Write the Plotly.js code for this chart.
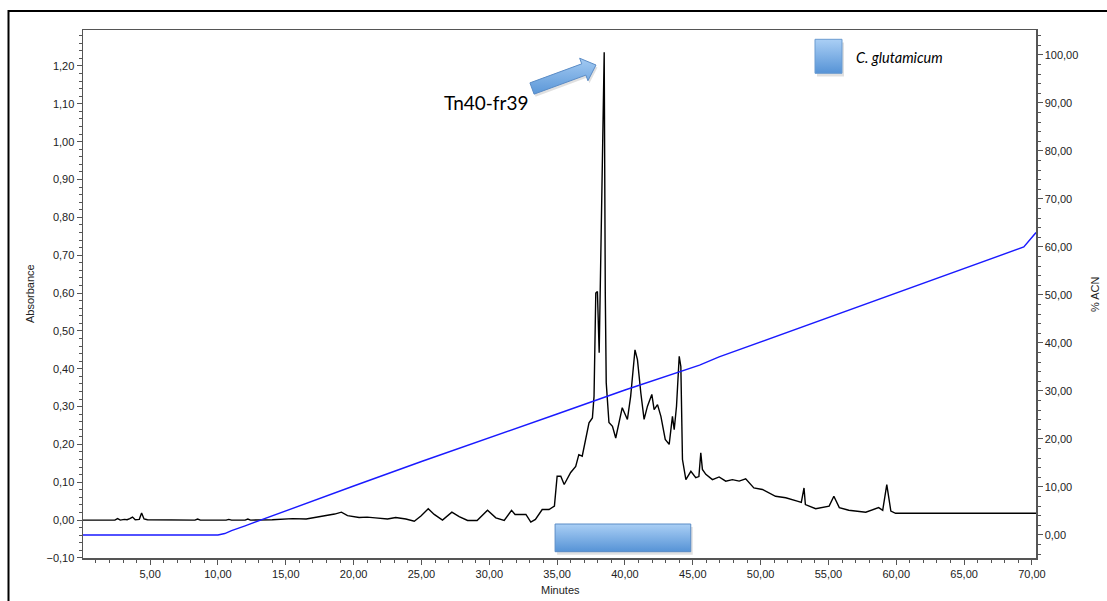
<!DOCTYPE html>
<html>
<head>
<meta charset="utf-8">
<script src="https://cdn.plot.ly/plotly-3.0.1.min.js"></script>
<style>
html,body{margin:0;padding:0;background:#fff;}
#chart{width:1107px;height:601px;}
</style>
</head>
<body>
<div id="chart"></div>
<script>
// ---- Data ----
const minutes = [0, 2.4, 2.6, 2.8, 3.1, 3.3, 3.5, 3.7, 3.9, 4.2, 4.37, 4.55, 4.8, 8.3, 8.5, 8.7, 10.6, 10.8, 11.0, 12.0, 12.2, 12.4, 14.0, 15.5, 16.5, 17.96, 18.6, 19.1, 19.55, 20.4, 21.0, 21.6, 22.5, 23.1, 23.85, 24.47, 24.96, 25.5, 25.94, 26.55, 27.24, 27.78, 28.4, 29.1, 29.87, 30.48, 31.1, 31.64, 31.9, 32.7, 33.06, 33.4, 33.9, 34.4, 34.8, 35.0, 35.27, 35.52, 36.0, 36.37, 36.6, 36.85, 37.1, 37.35, 37.6, 37.72, 37.85, 37.97, 38.1, 38.3, 38.47, 38.55, 38.62, 38.82, 39.08, 39.32, 39.57, 39.8, 40.18, 40.42, 40.74, 40.92, 41.17, 41.41, 41.66, 41.98, 42.15, 42.4, 42.65, 42.97, 43.26, 43.5, 43.63, 43.8, 44.0, 44.12, 44.24, 44.49, 44.86, 45.22, 45.45, 45.59, 45.71, 45.96, 46.45, 46.94, 47.43, 47.92, 48.42, 48.9, 49.5, 50.13, 51.1, 51.85, 52.7, 53.0, 53.2, 53.3, 54.06, 55.05, 55.4, 55.8, 56.5, 57.75, 58.7, 59.0, 59.3, 59.6, 59.95, 62.0, 66.8, 67.0, 67.2, 70.3];
const absorbance = [0, 0, 0.004, 0.0, 0.002, 0.001, 0.004, 0.008, 0.001, 0.002, 0.019, 0.003, 0.001, 0, 0.003, 0, 0, 0.002, 0, 0, 0.003, 0, 0.001, 0.004, 0.003, 0.011, 0.016, 0.021, 0.012, 0.007, 0.008, 0.006, 0.003, 0.007, 0.003, -0.003, 0.011, 0.030, 0.015, 0.0, 0.021, 0.009, -0.001, -0.001, 0.026, 0.006, -0.001, 0.026, 0.015, 0.015, -0.005, 0.002, 0.028, 0.028, 0.037, 0.116, 0.116, 0.094, 0.126, 0.142, 0.173, 0.169, 0.213, 0.257, 0.270, 0.327, 0.600, 0.604, 0.442, 0.85, 1.236, 0.60, 0.363, 0.258, 0.248, 0.217, 0.257, 0.297, 0.266, 0.327, 0.450, 0.424, 0.336, 0.266, 0.301, 0.332, 0.292, 0.305, 0.274, 0.213, 0.200, 0.274, 0.239, 0.301, 0.433, 0.406, 0.160, 0.107, 0.129, 0.112, 0.115, 0.178, 0.134, 0.121, 0.107, 0.114, 0.103, 0.107, 0.103, 0.109, 0.085, 0.081, 0.063, 0.059, 0.050, 0.047, 0.085, 0.041, 0.030, 0.037, 0.063, 0.033, 0.026, 0.021, 0.033, 0.026, 0.094, 0.024, 0.018, 0.018, 0.018, 0.020, 0.018, 0.018];

const gradMinutes = [0, 10, 10.5, 11, 12, 15, 17, 20, 25, 30, 35, 40, 45.5, 46.94, 50, 55, 60, 65, 69.4, 70.3];
const acnPercent  = [0, 0, 0.3, 0.9, 1.9, 5.0, 7.2, 10.2, 15.3, 20.2, 25.2, 30.2, 35.4, 37.1, 40.2, 45.3, 50.4, 55.5, 60.0, 63.0];

// Collected fraction window (minutes) and labels
const fractionWindow = [34.85, 44.85];
const legendLabel = "C. glutamicum";
const peakLabel = "Tn40-fr39";

// ---- Layout geometry ----
const W = 1107, H = 601;
const M = {l: 83, r: 71, t: 30, b: 43};
const xRange = [0.05, 70.3];
const yRange = [-0.1001, 1.295];
const y2Range = [-4.8, 105.2];
const plotW = W - M.l - M.r, plotH = H - M.t - M.b;
// pixel -> data/paper helpers (decorations only)
const px2x = px => xRange[0] + (px - M.l) / plotW * (xRange[1] - xRange[0]);
const py2y = py => yRange[1] - (py - M.t) / plotH * (yRange[1] - yRange[0]);
const px2p = px => (px - M.l) / plotW;
const py2p = py => (H - M.b - py) / plotH;

const blueScale = [[0, '#5693d6'], [1, '#aacff5']];

function boxTrace(x0, x1, y0, y1, scale, lineColor) {
  return {
    x: [x0, x1, x1, x0, x0], y: [y0, y0, y1, y1, y0],
    type: 'scatter', mode: 'lines', fill: 'toself',
    fillgradient: {type: 'vertical', colorscale: scale},
    line: {color: lineColor, width: 1},
    hoverinfo: 'skip', showlegend: false, xaxis: 'x', yaxis: 'y'
  };
}
function shadowTrace(xs, ys) {
  return {x: xs, y: ys, type: 'scatter', mode: 'none', fill: 'toself',
    fillcolor: 'rgba(0,0,0,0.12)', hoverinfo: 'skip', showlegend: false};
}

// fraction box (bottom)
const fy0 = py2y(551.7), fy1 = py2y(524);
const sx = px2x(M.l + 2) - xRange[0];
const fracShadow = shadowTrace(
  [fractionWindow[0] + sx, fractionWindow[1] + sx, fractionWindow[1] + sx, fractionWindow[0] + sx],
  [py2y(554.7), py2y(554.7), py2y(527), py2y(527)]);
const fracBox = boxTrace(fractionWindow[0], fractionWindow[1], fy0, fy1, blueScale, '#5b8cc6');

// legend swatch
const legShadow = shadowTrace([px2x(817), px2x(844), px2x(844), px2x(817)],
  [py2y(76.5), py2y(76.5), py2y(42.5), py2y(42.5)]);
const legBox = boxTrace(px2x(815), px2x(842), py2y(73.3), py2y(39.3), blueScale, '#6b9bd0');

// block arrow pointing at main peak (pixel geometry)
const tail = [532, 88.5], tip = [596, 65];
const dx = tip[0] - tail[0], dy = tip[1] - tail[1];
const len = Math.hypot(dx, dy);
const u = [dx / len, dy / len], n = [-u[1], u[0]];
const headLen = 13, shaftHW = 6, headHW = 12;
const base = [tip[0] - u[0] * headLen, tip[1] - u[1] * headLen];
const pts = [
  [tail[0] - n[0] * shaftHW, tail[1] - n[1] * shaftHW],
  [base[0] - n[0] * shaftHW, base[1] - n[1] * shaftHW],
  [base[0] - n[0] * headHW, base[1] - n[1] * headHW],
  tip,
  [base[0] + n[0] * headHW, base[1] + n[1] * headHW],
  [base[0] + n[0] * shaftHW, base[1] + n[1] * shaftHW],
  [tail[0] + n[0] * shaftHW, tail[1] + n[1] * shaftHW]
];
pts.push(pts[0]);
const arrowShadow = shadowTrace(pts.map(p => px2x(p[0] + 1.5)), pts.map(p => py2y(p[1] + 2.5)));
const arrow = {
  x: pts.map(p => px2x(p[0])), y: pts.map(p => py2y(p[1])),
  type: 'scatter', mode: 'lines', fill: 'toself',
  fillgradient: {type: 'vertical', colorscale: [[0, '#5b97d8'], [1, '#a3caf2']]},
  line: {color: '#5b8cc6', width: 1},
  hoverinfo: 'skip', showlegend: false
};

const absTrace = {
  x: minutes, y: absorbance, type: 'scatter', mode: 'lines',
  line: {color: '#000000', width: 1.4}, name: 'Absorbance', showlegend: false,
  xaxis: 'x', yaxis: 'y'
};
const acnTrace = {
  x: gradMinutes, y: acnPercent, type: 'scatter', mode: 'lines',
  line: {color: '#1a1aff', width: 1.4}, name: '% ACN', showlegend: false,
  xaxis: 'x', yaxis: 'y2'
};

const tickFont = {family: 'Liberation Sans, Arial, sans-serif', size: 11, color: '#222'};
const axCol = '#555';

const layout = {
  width: W, height: H,
  margin: M,
  paper_bgcolor: '#fff', plot_bgcolor: '#fff',
  separators: ',.',
  showlegend: false,
  xaxis: {
    range: xRange, dtick: 5, tick0: 0, tickformat: '.2f',
    ticks: 'outside', ticklen: 5, tickcolor: axCol, tickwidth: 1,
    minor: {dtick: 1, ticks: 'outside', ticklen: 3, tickcolor: axCol, showgrid: false},
    showline: true, linecolor: axCol, linewidth: 1.5, mirror: true,
    showgrid: false, zeroline: false, tickfont: tickFont, automargin: false
  },
  yaxis: {
    range: yRange, dtick: 0.1, tick0: 0, tickformat: '.2f',
    ticks: 'outside', ticklen: 5, tickcolor: axCol, tickwidth: 1,
    minor: {dtick: 0.02, ticks: 'outside', ticklen: 3, tickcolor: axCol, showgrid: false},
    showline: true, linecolor: axCol, linewidth: 1.5,
    showgrid: false, zeroline: false, tickfont: tickFont, automargin: false
  },
  yaxis2: {
    overlaying: 'y', side: 'right',
    range: y2Range, dtick: 10, tick0: 0, tickformat: '.2f',
    ticks: 'outside', ticklen: 5, tickcolor: axCol, tickwidth: 1,
    minor: {dtick: 2, ticks: 'outside', ticklen: 3, tickcolor: axCol, showgrid: false},
    showline: true, linecolor: axCol, linewidth: 1.5,
    showgrid: false, zeroline: false, tickfont: tickFont, automargin: false
  },
  shapes: [
    {type: 'rect', xref: 'paper', yref: 'paper',
     x0: px2p(8.5), x1: 1.3, y0: -0.3, y1: py2p(11),
     line: {color: '#000', width: 2}, fillcolor: 'rgba(0,0,0,0)', layer: 'below'}
  ],
  annotations: [
    {text: 'Absorbance', xref: 'paper', yref: 'paper', x: px2p(30), y: 0.5,
     textangle: -90, showarrow: false, font: tickFont, xanchor: 'center', yanchor: 'middle'},
    {text: '% ACN', xref: 'paper', yref: 'paper', x: px2p(1095), y: 0.5,
     textangle: -90, showarrow: false, font: tickFont, xanchor: 'center', yanchor: 'middle'},
    {text: 'Minutes', xref: 'paper', yref: 'paper', x: px2p(560), y: py2p(590),
     showarrow: false, font: tickFont, xanchor: 'center', yanchor: 'middle'},
    {text: peakLabel, xref: 'paper', yref: 'paper', x: px2p(486), y: py2p(102),
     showarrow: false, font: {family: 'Lato, Open Sans, sans-serif', size: 19, color: '#000'},
     xanchor: 'center', yanchor: 'middle'},
    {text: '<i>' + legendLabel + '</i>', xref: 'paper', yref: 'paper', x: px2p(854), y: py2p(58),
     showarrow: false, font: {family: 'Lato, Open Sans, sans-serif', size: 14.5, color: '#000'},
     xanchor: 'left', yanchor: 'middle'}
  ]
};

Plotly.newPlot('chart', [fracShadow, fracBox, legShadow, legBox, arrowShadow, arrow, acnTrace, absTrace], layout, {staticPlot: true, displayModeBar: false});
</script>
</body>
</html>
